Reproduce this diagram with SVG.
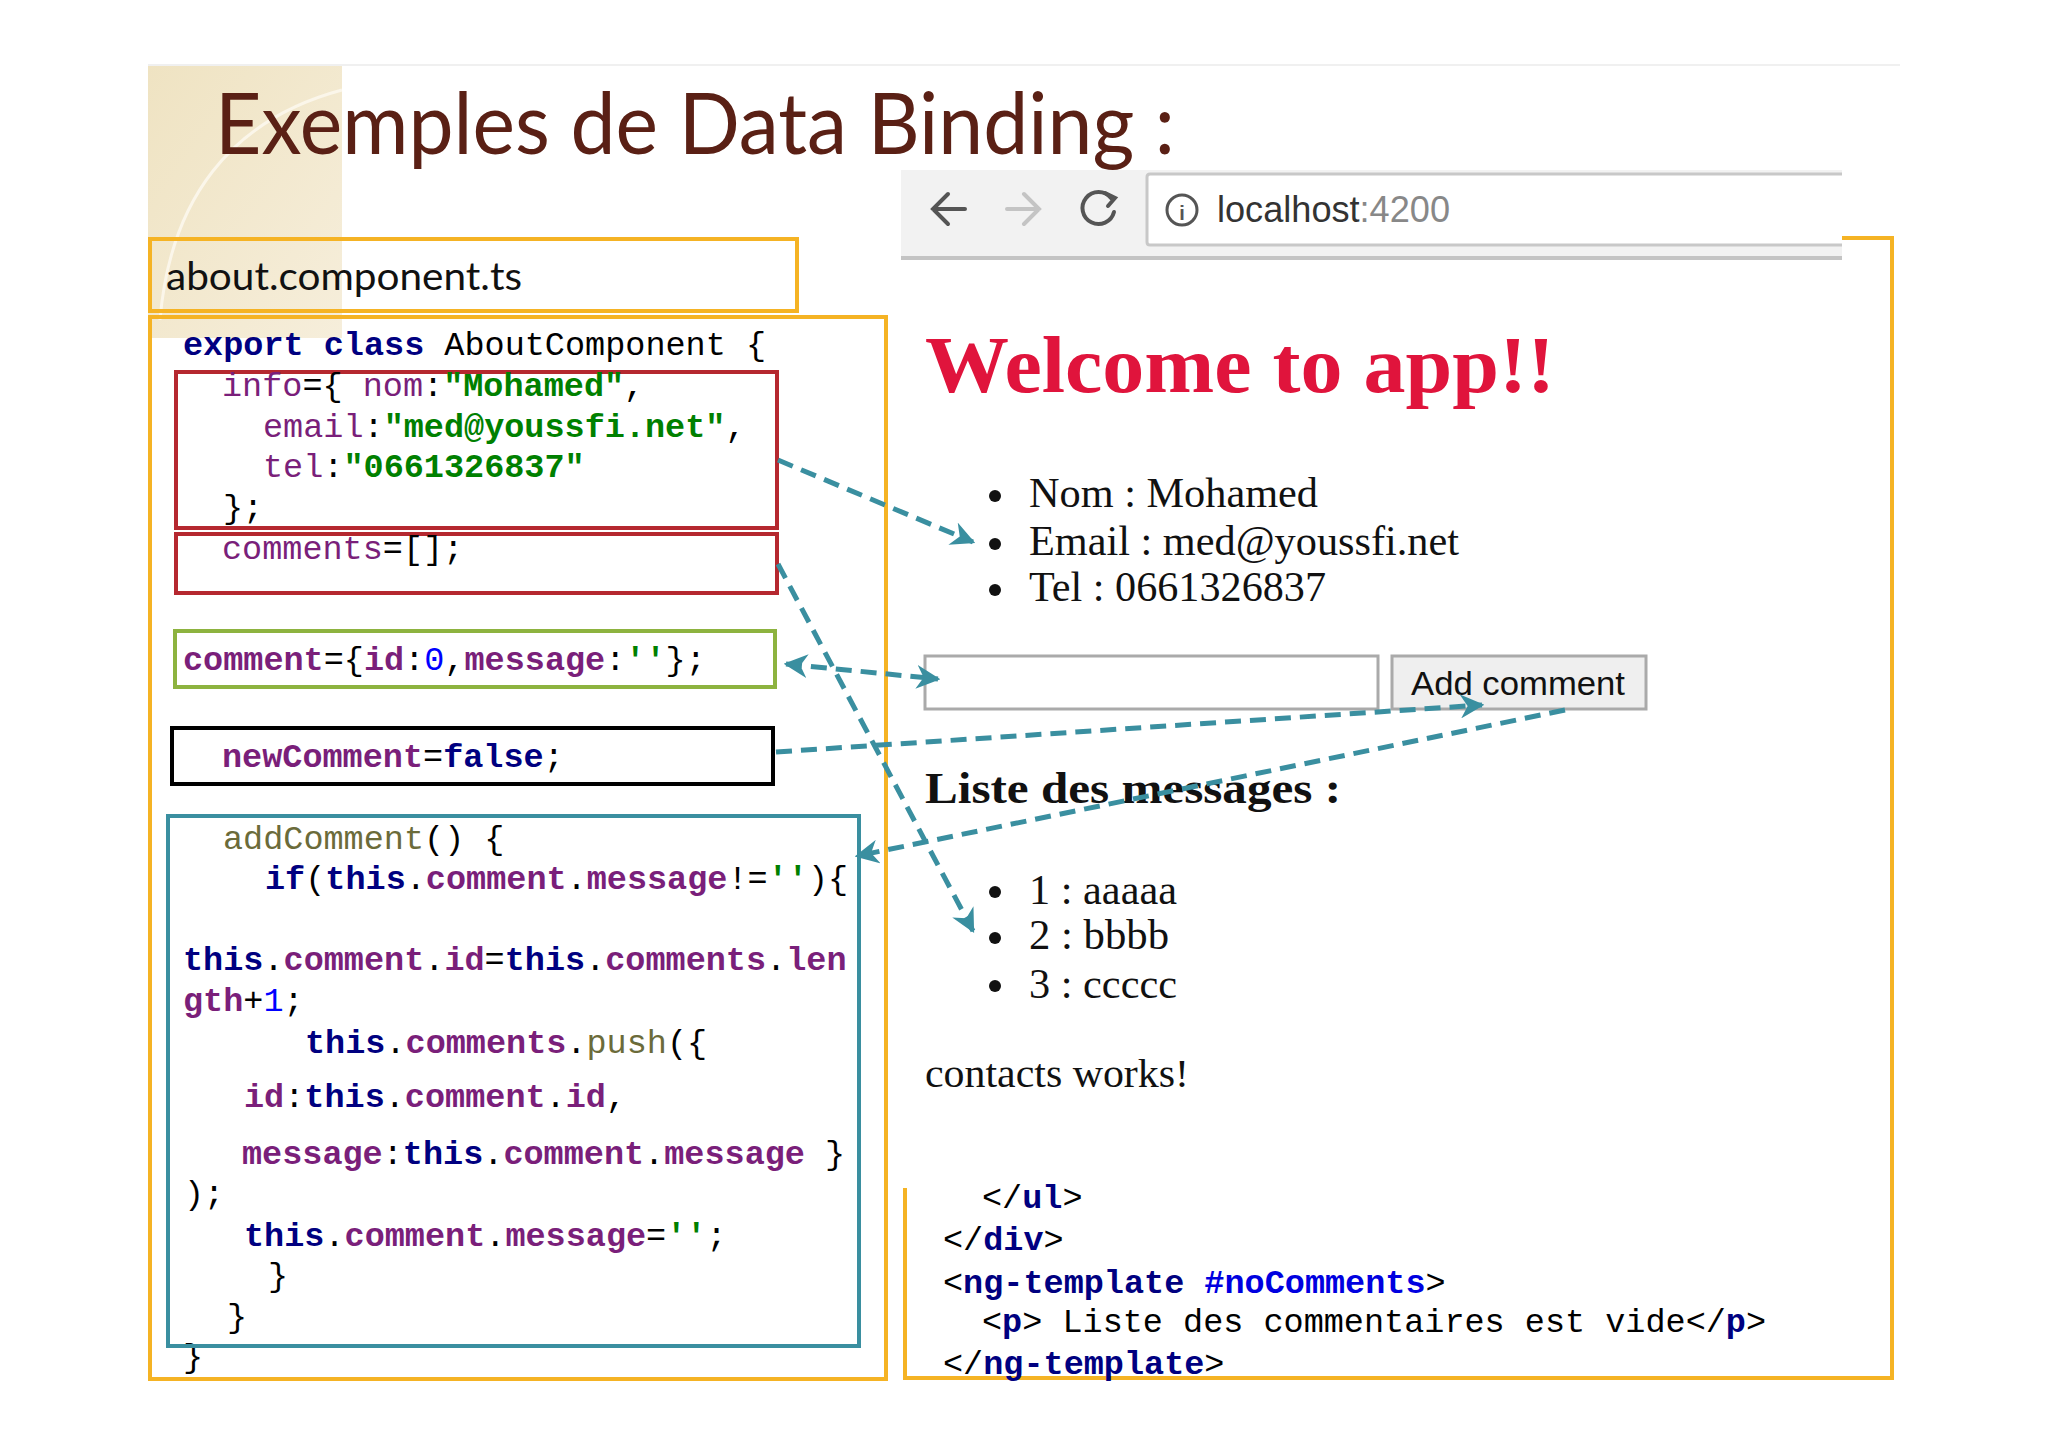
<svg xmlns="http://www.w3.org/2000/svg" width="2048" height="1447" viewBox="0 0 2048 1447">
<defs>
<linearGradient id="bg" x1="0" y1="0" x2="1" y2="1"><stop offset="0" stop-color="#efe3c2"/><stop offset="1" stop-color="#f6eedb"/></linearGradient>
<marker id="ah" viewBox="0 0 10 10" refX="9" refY="5" markerWidth="24" markerHeight="24" markerUnits="userSpaceOnUse" orient="auto-start-reverse"><path d="M0,0 L10,5 L0,10 L3,5 Z" fill="#3a8fa0"/></marker>
<style>
.m{font-family:"Liberation Mono","Courier New",monospace;font-size:33.5px;fill:#000}
.k{fill:#000080;font-weight:bold}
.p{fill:#7a1f7a;font-weight:bold}
.pn{fill:#7a1f7a}
.s{fill:#008000;font-weight:bold}
.n{fill:#0000ff}
.f{fill:#6b6b3a}
.t{font-family:"Liberation Serif","Times New Roman",serif;fill:#111}
.c{fill:none;stroke:#3a8fa0;stroke-width:5;stroke-dasharray:16 9}
.y{fill:none;stroke:#f5b324;stroke-width:4}
</style>
</defs>
<rect width="2048" height="1447" fill="#fff"/>
<g id="decor">
<rect x="148" y="65" width="194" height="273" fill="url(#bg)"/>
<path d="M160,320 C170,200 230,120 342,90" fill="none" stroke="#fbf6ea" stroke-width="3"/>
<line x1="148" y1="65" x2="1900" y2="65" stroke="#f0f0f0" stroke-width="2"/>
</g>
<g id="title"><text x="215" y="154" font-family="Lato,'Open Sans',sans-serif" font-size="86" fill="#5a2015" textLength="960" lengthAdjust="spacingAndGlyphs">Exemples de Data Binding :</text></g>

<g id="file-label">
<rect x="150" y="239" width="647" height="72" class="y" fill="#fff"/>
<text x="166" y="290" font-family="Lato,'Open Sans',sans-serif" font-size="38" fill="#111" textLength="356" lengthAdjust="spacingAndGlyphs">about.component.ts</text>
</g>

<g id="code">
<rect x="150" y="317" width="736" height="1062" class="y"/>
<text class="m" x="183" y="355"><tspan class="k">export class</tspan> AboutComponent {</text>
<text class="m" x="183" y="1367">}</text>
</g>

<g id="info-box">
<rect x="176" y="372" width="601" height="156" fill="none" stroke="#b5282f" stroke-width="4"/>
<text class="m" x="222" y="396"><tspan class="pn">info</tspan>={ <tspan class="pn">nom</tspan>:<tspan class="s">"Mohamed"</tspan>,</text>
<text class="m" x="263" y="437"><tspan class="pn">email</tspan>:<tspan class="s">"med@youssfi.net"</tspan>,</text>
<text class="m" x="263" y="477"><tspan class="pn">tel</tspan>:<tspan class="s">"0661326837"</tspan></text>
<text class="m" x="223" y="518">};</text>
</g>
<g id="comments-box">
<rect x="176" y="534" width="601" height="59" fill="none" stroke="#b5282f" stroke-width="4"/>
<text class="m" x="222" y="559"><tspan class="pn">comments</tspan>=[];</text>
</g>
<g id="comment-box">
<rect x="175" y="631" width="600" height="56" fill="none" stroke="#8db33f" stroke-width="4"/>
<text class="m" x="183" y="670"><tspan class="p">comment</tspan>={<tspan class="p">id</tspan>:<tspan class="n">0</tspan>,<tspan class="p">message</tspan>:<tspan class="s">''</tspan>};</text>
</g>
<g id="newcomment-box">
<rect x="172" y="728" width="601" height="56" fill="none" stroke="#000" stroke-width="4"/>
<text class="m" x="222" y="767"><tspan class="p">newComment</tspan>=<tspan class="k">false</tspan>;</text>
</g>
<g id="addcomment-box">
<rect x="168" y="816" width="691" height="530" fill="none" stroke="#3a8fa0" stroke-width="4"/>
<text class="m" x="223" y="849"><tspan class="f">addComment</tspan>() {</text>
<text class="m" x="265" y="889"><tspan class="k">if</tspan>(<tspan class="k">this</tspan>.<tspan class="p">comment</tspan>.<tspan class="p">message</tspan>!=<tspan class="s">''</tspan>){</text>
<text class="m" x="183" y="970"><tspan class="k">this</tspan>.<tspan class="p">comment</tspan>.<tspan class="p">id</tspan>=<tspan class="k">this</tspan>.<tspan class="p">comments</tspan>.<tspan class="p">len</tspan></text>
<text class="m" x="183" y="1011"><tspan class="p">gth</tspan>+<tspan class="n">1</tspan>;</text>
<text class="m" x="305" y="1053"><tspan class="k">this</tspan>.<tspan class="p">comments</tspan>.<tspan class="f">push</tspan>({</text>
<text class="m" x="244" y="1107"><tspan class="p">id</tspan>:<tspan class="k">this</tspan>.<tspan class="p">comment</tspan>.<tspan class="p">id</tspan>,</text>
<text class="m" x="242" y="1164"><tspan class="p">message</tspan>:<tspan class="k">this</tspan>.<tspan class="p">comment</tspan>.<tspan class="p">message</tspan> }</text>
<text class="m" x="184" y="1204">);</text>
<text class="m" x="244" y="1246"><tspan class="k">this</tspan>.<tspan class="p">comment</tspan>.<tspan class="p">message</tspan>=<tspan class="s">''</tspan>;</text>
<text class="m" x="268" y="1286">}</text>
<text class="m" x="227" y="1327">}</text>
</g>

<g id="browser-bar">
<rect x="901" y="170" width="941" height="86" fill="#f2f2f2"/>
<line x1="901" y1="258" x2="1842" y2="258" stroke="#c4c4c4" stroke-width="4"/>
<path d="M1842,174 H1150 Q1147,174 1147,177 V242 Q1147,245 1150,245 H1842 Z" fill="#fff"/>
<path d="M1842,174 H1150 Q1147,174 1147,177 V242 Q1147,245 1150,245 H1842" fill="none" stroke="#c8c8c8" stroke-width="3"/>
<g fill="none" stroke-width="4" stroke-linecap="round">
<path d="M965,209 H933 M948,194 L933,209 L948,224" stroke="#555"/>
<path d="M1007,209 H1039 M1024,194 L1039,209 L1024,224" stroke="#c4c4c4"/>
<path d="M1111,198 A16,16 0 1 0 1114,212" stroke="#555"/>
<path d="M1105,193 L1115,198 L1108,206" stroke="#555"/>
<circle cx="1182" cy="210" r="15" stroke="#555" stroke-width="3"/>
</g>
<text x="1182" y="220" font-family="'Liberation Sans',sans-serif" font-size="20" font-weight="bold" fill="#555" text-anchor="middle">i</text>
<text x="1217" y="222" font-family="'Liberation Sans',Arial,sans-serif" font-size="36" fill="#333" textLength="233" lengthAdjust="spacingAndGlyphs">localhost<tspan fill="#888">:4200</tspan></text>
</g>

<g id="app-frame">
<path class="y" d="M1842,238 H1892 V1378 H905 V1188"/>
</g>

<g id="app">
<text x="925" y="392" font-family="'Liberation Serif',serif" font-weight="bold" font-size="80" fill="#e0143c" textLength="630" lengthAdjust="spacingAndGlyphs">Welcome to app!!</text>
<g class="t" font-size="42">
<circle cx="995" cy="496" r="6" fill="#111"/><text x="1029" y="507" textLength="289" lengthAdjust="spacingAndGlyphs">Nom : Mohamed</text>
<circle cx="995" cy="544" r="6" fill="#111"/><text x="1029" y="555" textLength="430" lengthAdjust="spacingAndGlyphs">Email : med@youssfi.net</text>
<circle cx="995" cy="590" r="6" fill="#111"/><text x="1029" y="601" textLength="297" lengthAdjust="spacingAndGlyphs">Tel : 0661326837</text>
</g>
<rect x="925" y="656" width="453" height="53" fill="#fff" stroke="#aaa" stroke-width="3"/>
<rect x="1392" y="656" width="254" height="53" fill="#efefef" stroke="#aaa" stroke-width="3"/>
<text x="1411" y="695" font-family="'Liberation Sans',Arial,sans-serif" font-size="34" fill="#111" textLength="214" lengthAdjust="spacingAndGlyphs">Add comment</text>
<text x="925" y="803" font-family="'Liberation Serif',serif" font-weight="bold" font-size="44" fill="#111" textLength="416" lengthAdjust="spacingAndGlyphs">Liste des messages :</text>
<g class="t" font-size="42">
<circle cx="995" cy="892" r="6" fill="#111"/><text x="1029" y="904" textLength="148" lengthAdjust="spacingAndGlyphs">1 : aaaaa</text>
<circle cx="995" cy="938" r="6" fill="#111"/><text x="1029" y="949" textLength="140" lengthAdjust="spacingAndGlyphs">2 : bbbb</text>
<circle cx="995" cy="986" r="6" fill="#111"/><text x="1029" y="998" textLength="148" lengthAdjust="spacingAndGlyphs">3 : ccccc</text>
</g>
<text class="t" x="925" y="1087" font-size="40" textLength="264" lengthAdjust="spacingAndGlyphs">contacts works!</text>
</g>

<g id="template-code">
<text class="m" x="982" y="1208">&lt;/<tspan class="k">ul</tspan>&gt;</text>
<text class="m" x="943" y="1250">&lt;/<tspan class="k">div</tspan>&gt;</text>
<text class="m" x="943" y="1293">&lt;<tspan class="k">ng-template</tspan> <tspan fill="#0000e0" font-weight="bold">#noComments</tspan>&gt;</text>
<text class="m" x="982" y="1332">&lt;<tspan class="k">p</tspan>&gt; Liste des commentaires est vide&lt;/<tspan class="k">p</tspan>&gt;</text>
<text class="m" x="943" y="1374">&lt;/<tspan class="k">ng-template</tspan>&gt;</text>
</g>

<g id="connectors">
<path class="c" d="M778,460 L973,542" marker-end="url(#ah)"/>
<path class="c" d="M778,564 L973,931" marker-end="url(#ah)"/>
<path class="c" d="M786,664 L938,679" marker-start="url(#ah)" marker-end="url(#ah)"/>
<path class="c" d="M776,752 L1482,705" marker-end="url(#ah)"/>
<path class="c" d="M1565,710 L857,856" marker-end="url(#ah)"/>
</g>
</svg>
